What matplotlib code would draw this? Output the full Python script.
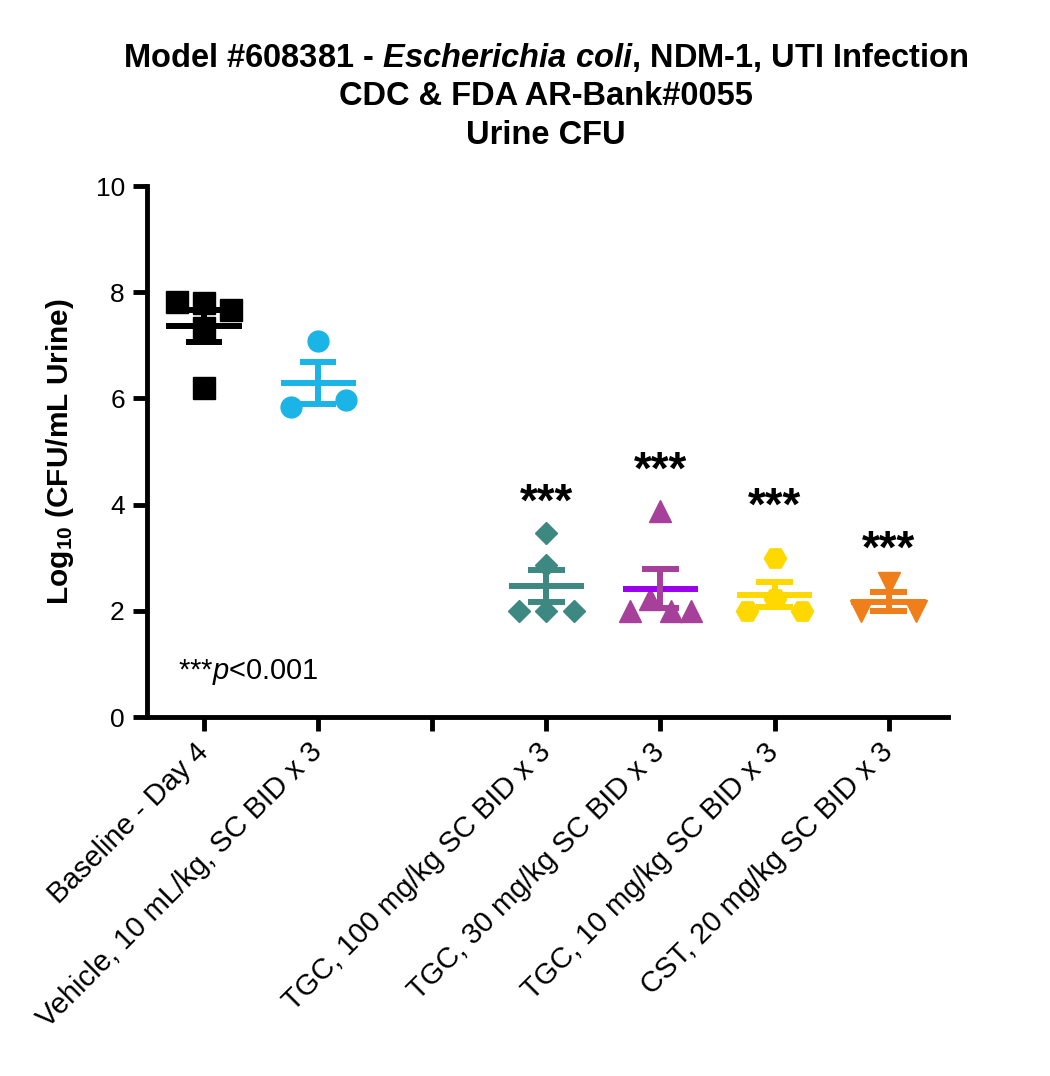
import numpy as np
import matplotlib
matplotlib.use("Agg")
import matplotlib.pyplot as plt

plt.rcParams['font.family'] = ['Liberation Sans', 'DejaVu Sans']
plt.rcParams['mathtext.fontset'] = 'custom'
plt.rcParams['mathtext.rm'] = 'Liberation Sans:bold'
plt.rcParams['mathtext.bf'] = 'Liberation Sans:bold'
plt.rcParams['mathtext.it'] = 'Liberation Sans:bold:italic'
plt.rcParams['mathtext.sf'] = 'Liberation Sans:italic'

# ---------------- data ----------------
categories = ["Baseline - Day 4", "Vehicle, 10 mL/kg, SC BID x 3", "",
              "TGC, 100 mg/kg SC BID x 3", "TGC, 30 mg/kg SC BID x 3",
              "TGC, 10 mg/kg SC BID x 3", "CST, 20 mg/kg SC BID x 3"]
baseline = [7.80, 7.82, 7.66, 7.33, 6.20]
vehicle = [7.08, 5.84, 5.97]
tgc100 = [3.46, 2.86, 2.0, 2.0, 2.0]
tgc30 = [3.88, 2.22, 2.0, 2.0, 2.0]
tgc10 = [3.0, 2.22, 2.0, 2.0]
cst = [2.52, 2.0, 2.0]
groups = [baseline, vehicle, None, tgc100, tgc30, tgc10, cst]
yticks = [0, 2, 4, 6, 8, 10]
# significance annotations (group index, label baseline height)
sig_groups = [3, 4, 5, 6]
sig_heights = [3.80, 4.40, 3.71, 2.90]

# ---------------- styles ----------------
markers = ['s', 'o', None, 'D', '^', 'H', 'v']
msizes = [16, 15, None, 11.5, 16, 16, 16]
colors = ['#000000', '#1AB4E6', None, '#3E8882', '#A6409A', '#FFD800', '#EF7F1A']
meancolors = ['#000000', '#1AB4E6', None, '#3E8882', '#9B00EE', '#FFD800', '#EF7F1A']


def swarm_offsets(vals, thresh=0.3):
    """Simple cluster-based horizontal spreading of close values."""
    n = len(vals)
    cid = list(range(n))
    for i in range(n):
        for j in range(i + 1, n):
            if abs(vals[i] - vals[j]) < thresh:
                a, b = cid[i], cid[j]
                cid = [a if c == b else c for c in cid]
    offs = np.zeros(n)
    for c in set(cid):
        idx = [i for i in range(n) if cid[i] == c]
        k = len(idx)
        if k == 1:
            continue
        w = 0.24 if k <= 3 else 0.27
        slots = np.linspace(-w, w, k)
        order = np.argsort(np.abs(slots), kind='stable')
        for i, s in zip(idx, order):
            offs[i] = slots[s]
    return offs


fig = plt.figure(figsize=(10.5, 10.76), dpi=100)
ax = fig.add_axes([0.14, 0.3336, 0.7629, 0.4935])

for gi, vals in enumerate(groups):
    if vals is None:
        continue
    v = np.array(vals)
    offs = swarm_offsets(vals)
    ax.plot(gi + offs, v, linestyle='none', marker=markers[gi], ms=msizes[gi],
            color=colors[gi], mec=colors[gi], zorder=3, clip_on=False)
    m = v.mean()
    sem = v.std(ddof=1) / np.sqrt(len(v))
    ax.hlines(m, gi - 0.33, gi + 0.33, color=meancolors[gi], lw=4.3, zorder=4)
    ax.vlines(gi, m - sem, m + sem, color=colors[gi], lw=4.3, zorder=4)
    ax.hlines([m - sem, m + sem], gi - 0.16, gi + 0.16, color=colors[gi], lw=4.3, zorder=4)

for gi, h in zip(sig_groups, sig_heights):
    ax.text(gi, h, "***", ha='center', va='baseline', fontsize=33,
            fontweight='bold', color='black')

ax.text(0.039, 0.085, r"***$\mathsf{p}$<0.001", transform=ax.transAxes,
        fontsize=21, ha='left', va='center')

ax.set_xlim(-0.5, 6.52)
ax.set_ylim(0, 10)
ax.set_yticks(yticks)
ax.set_yticklabels([str(t) for t in yticks], fontsize=19)
ax.set_xticks(range(len(categories)))
ax.set_xticklabels(categories, rotation=45, ha='right', va='center',
                   rotation_mode='anchor', fontsize=21)
for s in ['top', 'right']:
    ax.spines[s].set_visible(False)
for s in ['left', 'bottom']:
    ax.spines[s].set_linewidth(3.5)
ax.tick_params(axis='both', width=3.5, length=10, direction='out', pad=6)
ax.tick_params(axis='x', pad=12)

ax.set_ylabel(r"Log$_{10}$ (CFU/mL Urine)", fontsize=21.5, fontweight='bold', labelpad=14)

fig.text(0.52, 0.947, r"Model #608381 - $\mathit{Escherichia\ coli}$, NDM-1, UTI Infection",
         ha='center', va='center', fontsize=23.5, fontweight='bold')
fig.text(0.52, 0.910, "CDC & FDA AR-Bank#0055", ha='center', va='center',
         fontsize=23.5, fontweight='bold')
fig.text(0.52, 0.8745, "Urine CFU", ha='center', va='center',
         fontsize=23.5, fontweight='bold')

fig.savefig("out.png", dpi=100)
